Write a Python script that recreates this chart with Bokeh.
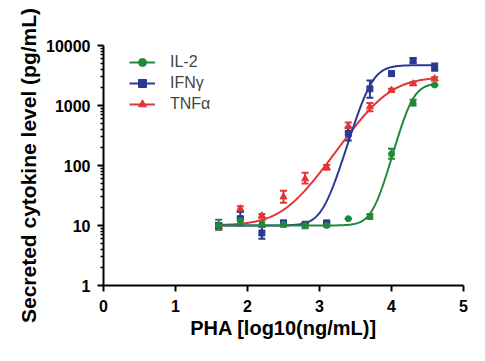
import numpy as np
from bokeh.plotting import figure
from bokeh.models import (Range1d, FixedTicker, PrintfTickFormatter, Whisker, TeeHead,
                          ColumnDataSource, Legend, LegendItem)
from bokeh.embed import file_html
from bokeh.resources import INLINE

# ---- data ----
pha_log = [1.6, 1.9, 2.2, 2.5, 2.8, 3.1, 3.4, 3.7, 4.0, 4.3, 4.6]

il2_mean = [10, 12, 10.5, 10.5, 10, 10, 13, 14, 155, 1100, 2200]
il2_lo = [8.5, 10, 9.5, 9.5, 9, 9.5, 13, 13, 130, 1000, 2150]
il2_hi = [12.5, 13.5, 12, 12, 11, 11, 13, 15.5, 190, 1250, 2250]

ifn_mean = [10, 13, 7.5, 11, 10.5, 11, 340, 1900, 3400, 5600, 4300]
ifn_lo = [9, 10.5, 6, 10, 10, 10, 260, 1350, 3100, 5100, 3800]
ifn_hi = [11, 17, 9.5, 12, 11, 12, 430, 2600, 3700, 6200, 5000]

tnf_mean = [9.5, 19, 14.5, 30, 60, 93, 450, 950, 1800, 2300, 2800]
tnf_lo = [8.5, 17, 13.5, 24, 50, 85, 380, 800, 1700, 2200, 2600]
tnf_hi = [11, 21, 15.5, 38, 76, 102, 520, 1100, 1900, 2450, 2950]

# 4-parameter logistic fit parameters: bottom, top, logEC50, hill
il2_fit = [10, 2350, 4.28, 4.5]
ifn_fit = [10, 4700, 3.72, 4.0]
tnf_fit = [10, 3000, 3.92, 1.8]

series_names = ["IL-2", "IFN\u03b3", "TNF\u03b1"]
y_ticks = [1, 10, 100, 1000, 10000]
x_ticks = [0, 1, 2, 3, 4, 5]

GREEN = "#22883c"
BLUE = "#2b3990"
RED = "#e03636"

p = figure(frame_width=360, frame_height=240,
           x_range=Range1d(0, 5), y_range=Range1d(1, 10000), y_axis_type="log",
           output_backend="svg", toolbar_location=None,
           min_border_left=103, min_border_top=45, min_border_right=14, min_border_bottom=68)
p.outline_line_color = None
p.xgrid.visible = False
p.ygrid.visible = False
p.background_fill_color = "white"

def curve(params):
    b, t, ec, h = params
    xs = np.linspace(pha_log[0], pha_log[-1], 300)
    ys = b + (t - b) / (1 + 10 ** ((ec - xs) * h))
    return xs, ys

renderers = {}
for name, mean, lo, hi, fit, color, marker, msize in [
        ("TNF\u03b1", tnf_mean, tnf_lo, tnf_hi, tnf_fit, RED, "triangle", 7),
        ("IFN\u03b3", ifn_mean, ifn_lo, ifn_hi, ifn_fit, BLUE, "square", 6),
        ("IL-2", il2_mean, il2_lo, il2_hi, il2_fit, GREEN, "circle", 6)]:
    src = ColumnDataSource(dict(x=pha_log, y=mean, lo=lo, hi=hi))
    w = Whisker(source=src, base="x", upper="hi", lower="lo", line_color=color, line_width=2,
                upper_head=TeeHead(size=7, line_color=color, line_width=2),
                lower_head=TeeHead(size=7, line_color=color, line_width=2))
    p.add_layout(w)
    cx, cy = curve(fit)
    lr = p.line(cx, cy, line_color=color, line_width=2)
    sr = p.scatter("x", "y", source=src, marker=marker, size=msize,
                   fill_color=color, line_color=color)
    renderers[name] = [lr, sr]

# axes
for ax in (p.xaxis[0], p.yaxis[0]):
    ax.axis_line_width = 2
    ax.axis_line_color = "black"
    ax.major_tick_line_width = 2
    ax.major_tick_line_color = "black"
    ax.minor_tick_line_width = 1.5
    ax.minor_tick_line_color = "black"
    ax.major_tick_in = 0
    ax.minor_tick_in = 0
    ax.major_label_text_font = "Liberation Sans"
    ax.major_label_text_font_style = "bold"
    ax.major_label_text_font_size = "16px"
    ax.major_label_text_color = "black"
    ax.axis_label_text_font = "Liberation Sans"
    ax.axis_label_text_font_style = "bold"
    ax.axis_label_text_color = "black"

p.xaxis.ticker = FixedTicker(ticks=x_ticks)
p.xaxis.major_tick_out = 6
p.xaxis.major_label_standoff = 8
p.xaxis.axis_label = "PHA [log10(ng/mL)]"
p.xaxis.axis_label_text_font_size = "20px"
p.xaxis.axis_label_standoff = 2

minor = [m * d for d in [1, 10, 100, 1000] for m in range(2, 10)]
p.yaxis.ticker = FixedTicker(ticks=y_ticks, minor_ticks=minor)
p.yaxis.formatter = PrintfTickFormatter(format="%d")
p.yaxis.major_tick_out = 6
p.yaxis.minor_tick_out = 3
p.yaxis.major_label_standoff = 7
p.yaxis.axis_label = "Secreted cytokine level (pg/mL)"
p.yaxis.axis_label_text_font_size = "21px"
p.yaxis.axis_label_standoff = 3

legend = Legend(items=[LegendItem(label=n, renderers=renderers[n]) for n in series_names],
                location=(26, 171))
legend.background_fill_alpha = 0
legend.border_line_color = None
legend.padding = 0
legend.margin = 0
legend.spacing = 1
legend.glyph_width = 26
legend.glyph_height = 20
legend.label_height = 20
legend.label_standoff = 15
legend.label_text_font = "Liberation Sans"
legend.label_text_font_size = "16px"
p.add_layout(legend)

open("out.html", "w").write(file_html(p, INLINE))
